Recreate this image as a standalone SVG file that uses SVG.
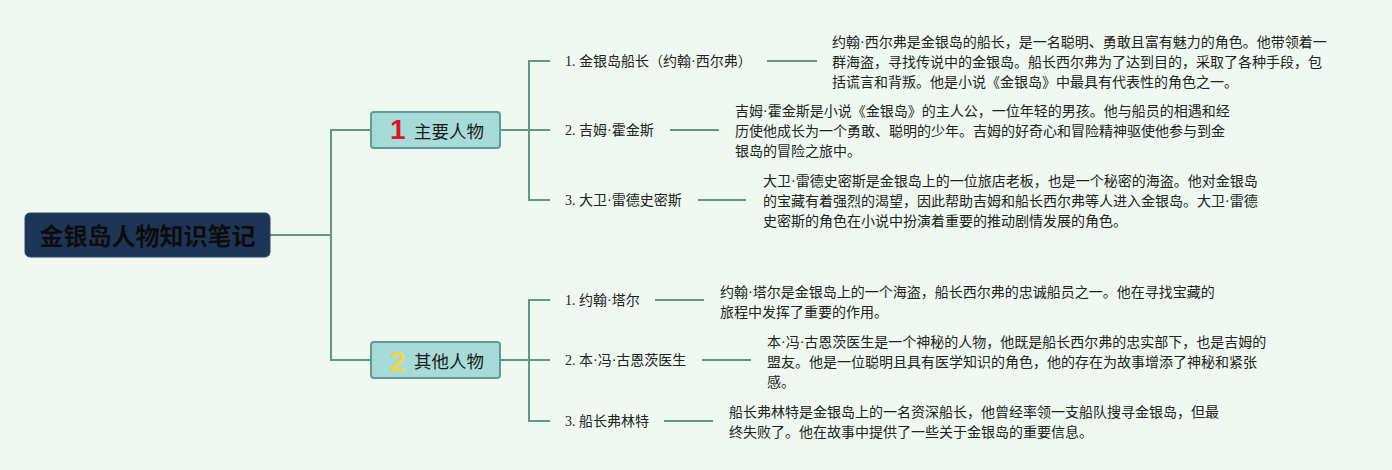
<svg xmlns="http://www.w3.org/2000/svg" width="1392" height="470" viewBox="0 0 1392 470">
<style>
.bg{fill:#eff9f1}
.conn{fill:none;stroke:#5e9886;stroke-width:2}
.root{fill:#1e3656;stroke:#2a4668;stroke-width:1}
.roottxt{font-family:"Noto Sans CJK SC","Noto Sans",sans-serif;font-weight:bold;font-size:24px;fill:#0d0d0d}
.branch{fill:#a7dbd8;stroke:#5f9d90;stroke-width:2}
.btxt{font-family:"Noto Sans CJK SC","Noto Sans",sans-serif;font-size:17.5px;fill:#1a1a1a}
.num{font-family:"Liberation Sans","Noto Sans",sans-serif;font-weight:bold;font-size:28px}
.leaf{font-family:"Liberation Serif","Noto Sans CJK SC",serif;font-size:14px;fill:#222}
.desc{font-family:"Liberation Serif","Noto Sans CJK SC",serif;font-size:14px;fill:#222}
</style>
<rect class="bg" x="0" y="0" width="1392" height="470"/>
<g id="connectors">
<path class="conn" d="M270 235 H331 M331 130 V360 M330 130 H371 M330 360 H371"/>
<path class="conn" d="M500 130 H550 M529 61 V200 M528 61 H550 M528 200 H550"/>
<path class="conn" d="M500 360 H550 M529 300 V421 M528 300 H550 M528 421 H550"/>
<path class="conn" d="M767 61 H817 M670 130 H719 M698 200 H746 M655 300 H704 M702 360 H751 M664 421 H713"/>
</g>
<g id="root">
<rect class="root" x="25" y="213" width="245" height="44" rx="5"/>
<text class="roottxt" x="147.5" y="245" text-anchor="middle">金银岛人物知识笔记</text>
</g>
<g id="branch1">
<rect class="branch" x="371" y="112" width="129" height="36" rx="3"/>
<text class="num" x="390" y="139" fill="#d9142b">1</text>
<text class="btxt" x="414" y="137.5">主要人物</text>
</g>
<g id="branch2">
<rect class="branch" x="371" y="342" width="129" height="36" rx="3"/>
<text class="num" x="390" y="371" fill="#f3d34a">2</text>
<text class="btxt" x="414" y="367.5">其他人物</text>
</g>
<g id="leaf1-1"><text class="leaf" x="565" y="66">1. 金银岛船长（约翰·西尔弗）</text></g>
<g id="leaf1-2"><text class="leaf" x="565" y="135">2. 吉姆·霍金斯</text></g>
<g id="leaf1-3"><text class="leaf" x="565" y="205">3. 大卫·雷德史密斯</text></g>
<g id="leaf2-1"><text class="leaf" x="565" y="305">1. 约翰·塔尔</text></g>
<g id="leaf2-2"><text class="leaf" x="565" y="365">2. 本·冯·古恩茨医生</text></g>
<g id="leaf2-3"><text class="leaf" x="565" y="426">3. 船长弗林特</text></g>
<g id="desc1-1">
<text class="desc" x="832" y="46.5">约翰·西尔弗是金银岛的船长，是一名聪明、勇敢且富有魅力的角色。他带领着一</text>
<text class="desc" x="832" y="66.5">群海盗，寻找传说中的金银岛。船长西尔弗为了达到目的，采取了各种手段，包</text>
<text class="desc" x="832" y="86.5">括谎言和背叛。他是小说《金银岛》中最具有代表性的角色之一。</text>
</g>
<g id="desc1-2">
<text class="desc" x="735" y="115.5">吉姆·霍金斯是小说《金银岛》的主人公，一位年轻的男孩。他与船员的相遇和经</text>
<text class="desc" x="735" y="135.5">历使他成长为一个勇敢、聪明的少年。吉姆的好奇心和冒险精神驱使他参与到金</text>
<text class="desc" x="735" y="155.5">银岛的冒险之旅中。</text>
</g>
<g id="desc1-3">
<text class="desc" x="763" y="186">大卫·雷德史密斯是金银岛上的一位旅店老板，也是一个秘密的海盗。他对金银岛</text>
<text class="desc" x="763" y="206">的宝藏有着强烈的渴望，因此帮助吉姆和船长西尔弗等人进入金银岛。大卫·雷德</text>
<text class="desc" x="763" y="226">史密斯的角色在小说中扮演着重要的推动剧情发展的角色。</text>
</g>
<g id="desc2-1">
<text class="desc" x="720" y="296.5">约翰·塔尔是金银岛上的一个海盗，船长西尔弗的忠诚船员之一。他在寻找宝藏的</text>
<text class="desc" x="720" y="316.5">旅程中发挥了重要的作用。</text>
</g>
<g id="desc2-2">
<text class="desc" x="767" y="346.5">本·冯·古恩茨医生是一个神秘的人物，他既是船长西尔弗的忠实部下，也是吉姆的</text>
<text class="desc" x="767" y="366.5">盟友。他是一位聪明且具有医学知识的角色，他的存在为故事增添了神秘和紧张</text>
<text class="desc" x="767" y="386.5">感。</text>
</g>
<g id="desc2-3">
<text class="desc" x="729" y="417">船长弗林特是金银岛上的一名资深船长，他曾经率领一支船队搜寻金银岛，但最</text>
<text class="desc" x="729" y="437">终失败了。他在故事中提供了一些关于金银岛的重要信息。</text>
</g>
</svg>
